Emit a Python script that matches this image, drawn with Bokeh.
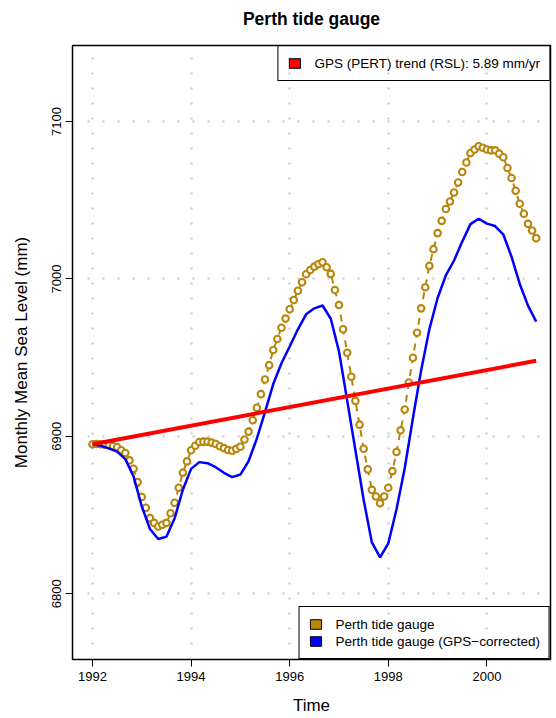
import numpy as np
from bokeh.plotting import figure
from bokeh.models import Range1d, FixedTicker, Legend, LegendItem, Title
from bokeh.core.properties import value
from bokeh.embed import file_html
from bokeh.resources import INLINE

# ---------------- data ----------------
start_year = 1992  # first monthly sample

# Perth tide gauge, monthly mean sea level (mm), Jan 1992 .. Jan 2001
gauge_mm = [
    6895.0, 6895.1, 6895.0, 6894.7, 6894.3, 6893.8, 6893.2, 6891.1, 6889.4, 6884.7,
    6879.4, 6870.9, 6861.4, 6854.6, 6848.0, 6845.0, 6842.7, 6843.8, 6845.0, 6851.1,
    6857.8, 6867.3, 6876.9, 6884.1, 6891.1, 6894.0, 6896.4, 6896.6, 6896.6, 6896.0,
    6895.1, 6893.7, 6892.5, 6891.3, 6890.8, 6892.0, 6893.4, 6898.0, 6903.0, 6910.2,
    6918.1, 6926.8, 6936.1, 6945.2, 6954.8, 6961.8, 6969.0, 6974.8, 6980.7, 6986.6,
    6992.5, 6997.9, 7003.0, 7005.7, 7007.8, 7009.4, 7010.6, 7007.4, 7003.2, 6993.0,
    6983.4, 6968.0, 6953.1, 6937.8, 6922.5, 6907.4, 6892.1, 6879.0, 6866.0, 6861.8,
    6857.5, 6861.8, 6867.3, 6877.9, 6890.0, 6903.8, 6917.0, 6934.2, 6949.9, 6965.8,
    6981.3, 6994.7, 7008.3, 7018.9, 7029.1, 7036.9, 7044.4, 7049.2, 7054.9, 7061.3,
    7067.9, 7074.0, 7080.0, 7082.2, 7084.3, 7083.3, 7082.2, 7081.7, 7081.7, 7079.6,
    7077.3, 7070.5, 7064.1, 7056.0, 7047.8, 7041.4, 7035.0, 7030.8, 7025.9,
]

# GPS-corrected tide gauge, every second month (mm)
corrected_mm = [
    6895.0, 6894.0, 6892.3, 6890.3, 6885.5, 6874.5, 6855.5, 6841.1, 6834.8, 6836.2,
    6848.0, 6866.1, 6879.3, 6883.6, 6882.9, 6880.4, 6876.8, 6874.1, 6875.7, 6884.3,
    6898.5, 6915.5, 6933.2, 6946.4, 6957.1, 6968.0, 6977.5, 6981.3, 6983.1, 6974.7,
    6954.0, 6922.7, 6891.1, 6859.7, 6832.6, 6823.1, 6832.0, 6853.7, 6879.7, 6911.6,
    6942.0, 6968.1, 6987.9, 7002.2, 7011.7, 7023.7, 7034.8, 7038.2, 7035.1, 7033.6,
    7028.2, 7014.0, 6996.8, 6983.0, 6972.9,
]

# GPS (PERT) trend line (RSL), 5.89 mm/yr
trend_years = [1992.0, 2001.0]
trend_mm = [6895.0, 6948.0]

x_ticks = [1992, 1994, 1996, 1998, 2000]
y_ticks = [6800, 6900, 7000, 7100]

title_text = "Perth tide gauge"
x_label = "Time"
y_label = "Monthly Mean Sea Level (mm)"
legend_trend = "GPS (PERT) trend (RSL): 5.89 mm/yr"
legend_gauge = "Perth tide gauge"
legend_corr = "Perth tide gauge (GPS\u2212corrected)"

# ---------------- time axes ----------------
t_gauge = start_year + np.arange(len(gauge_mm)) / 12.0
t_corr = start_year + 2 * np.arange(len(corrected_mm)) / 12.0

FONT = "Liberation Sans"
GOLD = "#B8860B"
BLUE = "#0000FF"
RED = "#FF0000"

p = figure(
    width=556, height=718,
    output_backend="svg", toolbar_location=None,
    x_range=Range1d(1991.595, 2001.29),
    y_range=Range1d(6758.2, 7148.3),
    min_border_left=72, min_border_right=6,
    min_border_top=45, min_border_bottom=59,
    background_fill_color="white", border_fill_color="white",
)
p.title.text = ""

# spacer between the frame and the title, then the title itself
p.add_layout(Title(text=" ", text_font_size="2px", standoff=8,
                   text_color="white"), "above")
p.add_layout(Title(text=title_text, align="center", text_font=FONT,
                   text_font_size="17.5px", text_font_style="bold",
                   text_color="black", standoff=10), "above")

# outline
p.outline_line_color = "black"
p.outline_line_width = 1.5

# axes
p.xaxis.ticker = FixedTicker(ticks=x_ticks)
p.yaxis.ticker = FixedTicker(ticks=y_ticks)
p.xgrid.ticker = FixedTicker(ticks=x_ticks)
p.ygrid.ticker = FixedTicker(ticks=y_ticks)
for ax in (p.xaxis, p.yaxis):
    ax.axis_line_color = "black"
    ax.axis_line_width = 1
    ax.major_tick_out = 7
    ax.major_tick_in = 0
    ax.major_tick_line_color = "black"
    ax.minor_tick_line_color = None
    ax.major_label_text_font = FONT
    ax.major_label_text_font_size = "13px"
    ax.major_label_text_color = "black"
    ax.axis_label_text_font = FONT
    ax.axis_label_text_font_size = "17px"
    ax.axis_label_text_font_style = "normal"
    ax.axis_label_text_color = "black"
p.xaxis.axis_label = x_label
p.yaxis.axis_label = y_label
p.yaxis.major_label_orientation = "vertical"
p.xaxis.major_label_standoff = 5
p.yaxis.major_label_standoff = 4
p.xaxis.axis_label_standoff = 12
p.yaxis.axis_label_standoff = 19

# grid: light grey dotted
p.grid.grid_line_color = "#CFCFCF"
p.grid.grid_line_width = 2.5
p.grid.grid_line_dash = "2 13"

# series
p.line(t_gauge, gauge_mm, line_color=GOLD, line_width=2, line_dash="7 6")
p.scatter(t_gauge, gauge_mm, marker="circle", size=6.5, line_color=GOLD,
          line_width=2.1, fill_color="white")
p.line(t_corr, corrected_mm, line_color=BLUE, line_width=2.5)
p.line(trend_years, trend_mm, line_color=RED, line_width=4)

# legend swatches: one NaN row each, so nothing is drawn in the plot itself
nan = [float("nan")]
sw_red = p.quad(left=nan, right=nan, bottom=nan, top=nan, fill_color=RED, line_color="black", line_width=1)
sw_gold = p.quad(left=nan, right=nan, bottom=nan, top=nan, fill_color=GOLD, line_color="black", line_width=1)
sw_blue = p.quad(left=nan, right=nan, bottom=nan, top=nan, fill_color=BLUE, line_color="black", line_width=1)


def make_legend(items, loc):
    return Legend(
        items=items, location=loc, margin=0, padding=9, spacing=1,
        glyph_width=14, glyph_height=12, label_height=16, label_standoff=13,
        label_text_font=FONT, label_text_font_size="13.5px", label_text_color="black",
        border_line_color="black", border_line_width=1, border_line_alpha=1,
        background_fill_alpha=0,
    )


leg_top = make_legend([LegendItem(label=value(legend_trend), renderers=[sw_red], index=0)], "top_right")
leg_bot = make_legend([
    LegendItem(label=value(legend_gauge), renderers=[sw_gold], index=0),
    LegendItem(label=value(legend_corr), renderers=[sw_blue], index=0),
], "bottom_right")
p.add_layout(leg_top)
p.add_layout(leg_bot)

open("out.html", "w").write(file_html(p, INLINE))
